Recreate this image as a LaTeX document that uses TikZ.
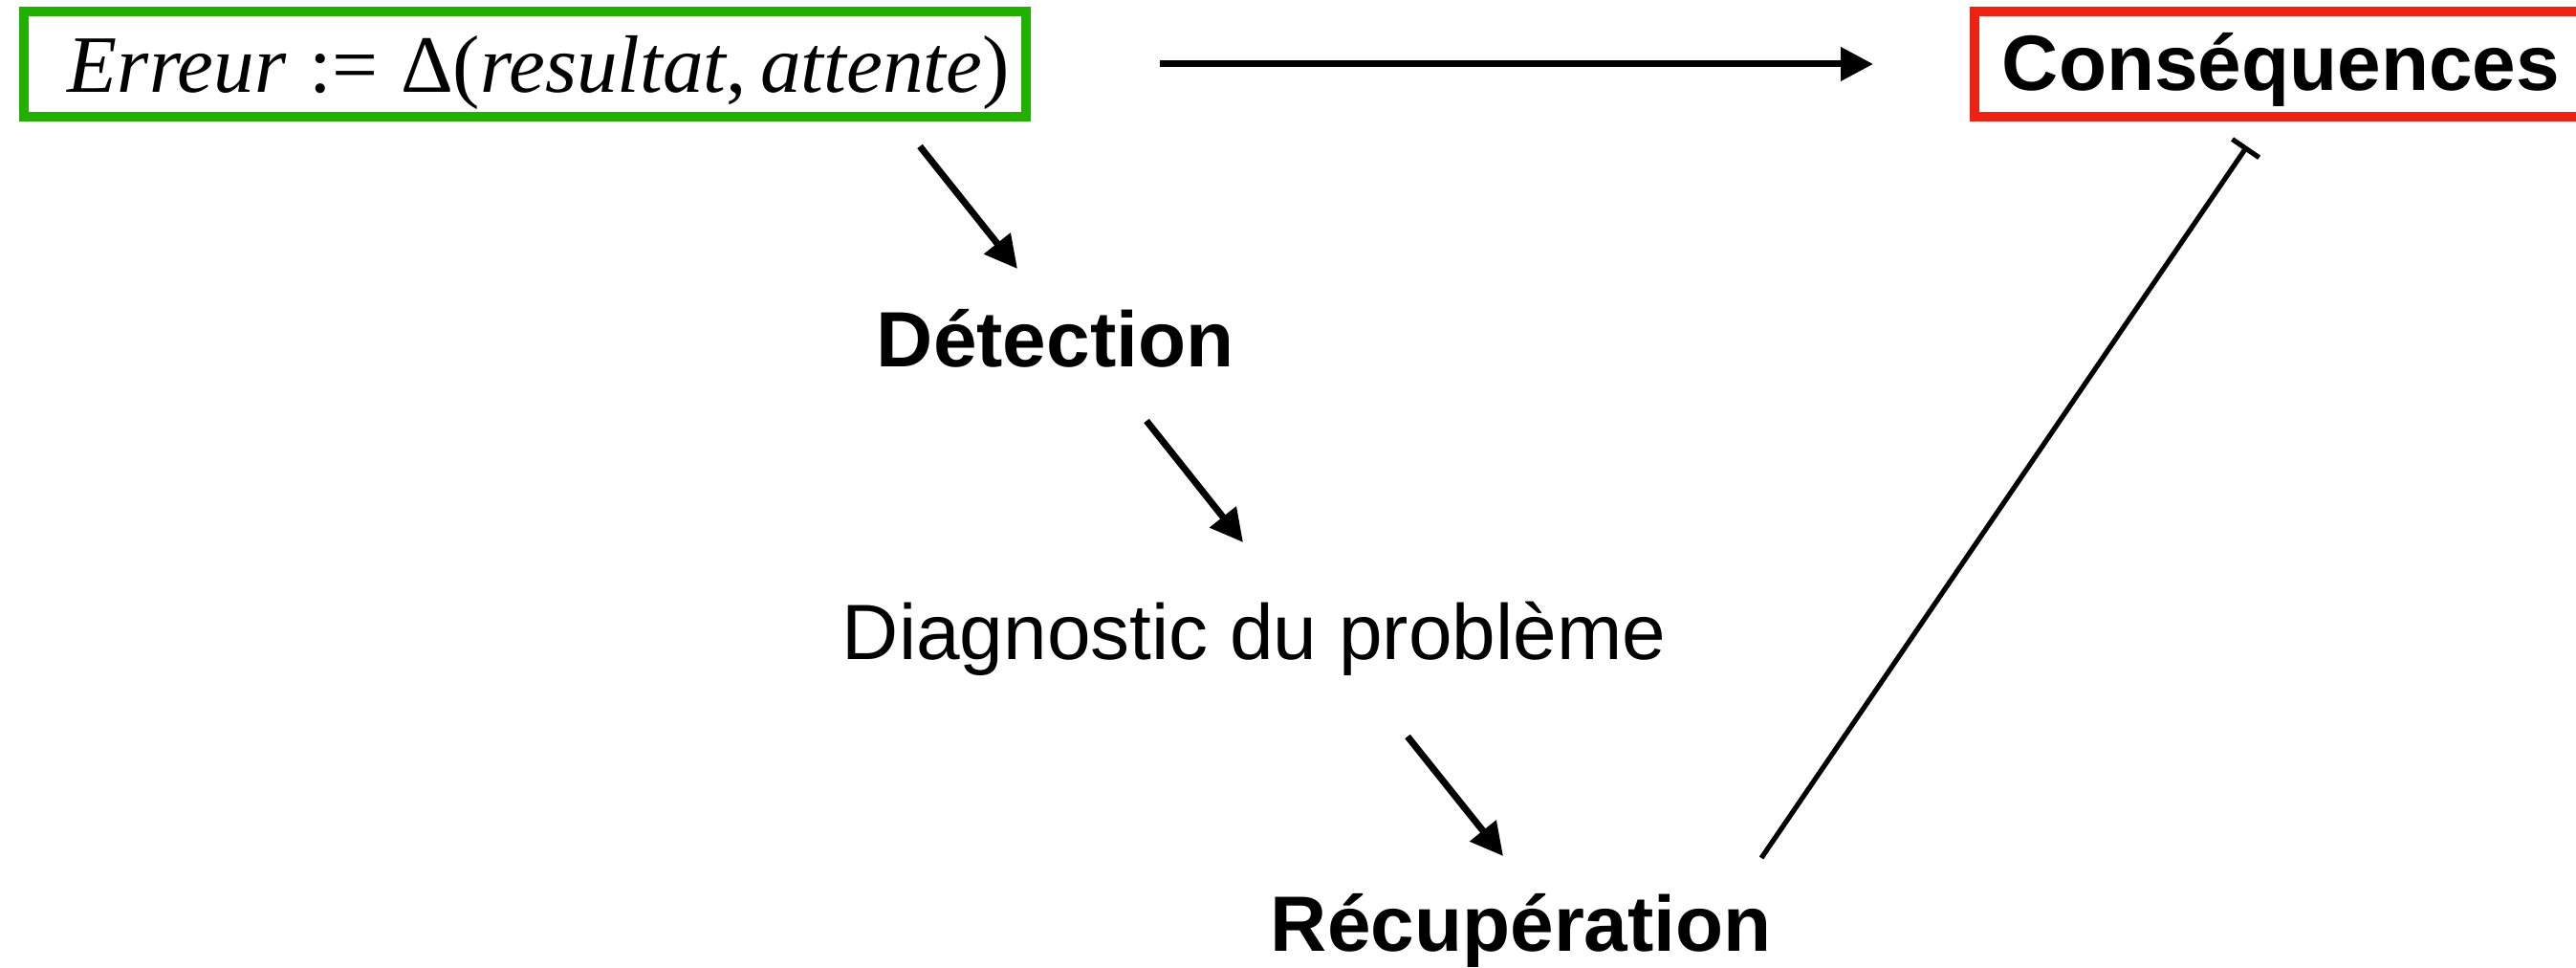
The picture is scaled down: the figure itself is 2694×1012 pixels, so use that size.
\documentclass[tikz,border=0pt]{standalone}
\usepackage{fontspec}
\setmainfont{Liberation Serif}
\setsansfont{Liberation Sans}
\usetikzlibrary{arrows.meta}
\definecolor{boxgreen}{RGB}{34,176,0}
\definecolor{boxred}{RGB}{238,34,17}
\begin{document}
\begin{tikzpicture}[x=0.25pt,y=-0.25pt,
  lbl/.style={font=\sffamily\fontsize{20.5}{24}\selectfont, inner sep=0pt, anchor=base west},
  boldlbl/.style={lbl, font=\sffamily\bfseries\fontsize{20.5}{24}\selectfont},
  frame/.style={draw, line width=2.5pt, inner sep=0pt, minimum height=27.5pt},
  arr/.style={line width=1.75pt, -{Triangle[length=8.5pt,width=8.5pt]}},
  inhib/.style={line width=1.3pt, -{Bar[width=8.5pt,line width=1.3pt]}}]
\useasboundingbox (0,0) rectangle (2694,1012);
\clip (0,0) rectangle (2694,1012);
\fill[white] (0,0) rectangle (2694,1012);

% boxes
\node[frame, draw=boxgreen, minimum width=262pt] (errbox) at (549,67) {};
\node[frame, draw=boxred, minimum width=175pt] (consbox) at (2415,67) {};

% texts
\node[lbl, font=\rmfamily\fontsize{21.3}{24}\selectfont] (err) at (70,97)
  {\textit{Erreur}\hspace{.28em}:=\hspace{.28em}Δ(\textit{resultat},\hspace{.17em}\textit{attente})};
\node[boldlbl] (cons) at (2093,95) {Conséquences};
\node[boldlbl] (det) at (916,384) {Détection};
\node[lbl] (diag) at (880,690) {Diagnostic du problème};
\node[boldlbl] (recup) at (1328,995) {Récupération};

% connector end points
\coordinate (a1s) at (962,153);
\coordinate (a1e) at (1064,281);
\coordinate (a2s) at (1199,440);
\coordinate (a2e) at (1300,567);
\coordinate (a3s) at (1472,770);
\coordinate (a3e) at (1572,895);
\coordinate (ts) at (1842,897);
\coordinate (te) at (2350,153);

% connectors
\draw[arr, shorten <=33.75pt, shorten >=25.25pt] (errbox.east) -- (consbox.west);
\draw[arr] (a1s) -- (a1e);
\draw[arr] (a2s) -- (a2e);
\draw[arr] (a3s) -- (a3e);
\draw[inhib] (ts) -- (te);
\end{tikzpicture}
\end{document}
